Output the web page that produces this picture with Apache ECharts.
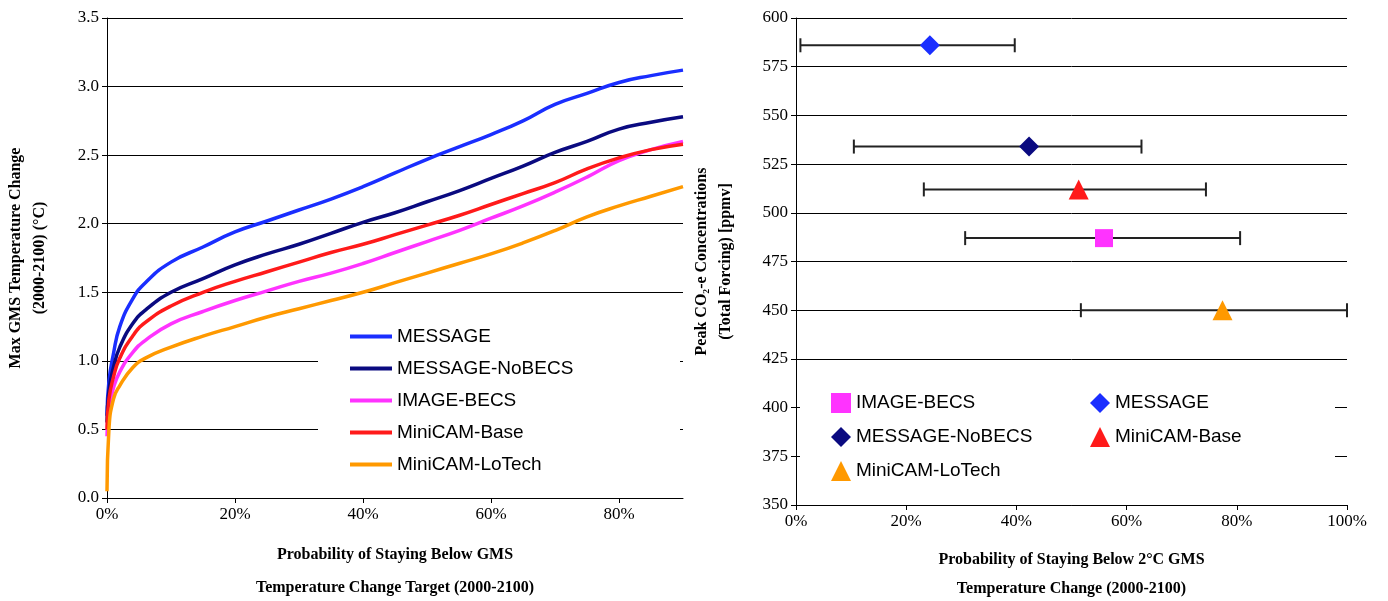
<!DOCTYPE html><html><head><meta charset="utf-8">
<script src="https://cdn.jsdelivr.net/npm/echarts@6/dist/echarts.min.js"></script>
<style>body{margin:0;background:#fff}#c{width:1388px;height:601px}</style></head><body><div id="c"></div><script>
const probs=[0,0.003,0.01,0.02,0.04,0.06,0.10,0.15,0.20,0.25,0.30,0.35,0.40,0.45,0.50,0.55,0.60,0.65,0.70,0.75,0.80,0.85,0.90];
const message=[0.6,0.85,1.05,1.25,1.45,1.57,1.72,1.83,1.94,2.02,2.1,2.18,2.27,2.37,2.47,2.56,2.65,2.75,2.87,2.95,3.03,3.08,3.12];
const noBecs=[0.55,0.78,0.95,1.1,1.27,1.37,1.5,1.6,1.7,1.78,1.85,1.93,2.01,2.08,2.16,2.24,2.33,2.42,2.52,2.6,2.69,2.74,2.78];
const imageBecs=[0.45,0.65,0.8,0.92,1.06,1.15,1.27,1.36,1.44,1.51,1.58,1.64,1.71,1.79,1.87,1.95,2.04,2.13,2.23,2.34,2.46,2.54,2.6];
const miniBase=[0.5,0.72,0.88,1.02,1.18,1.28,1.4,1.5,1.58,1.65,1.72,1.79,1.85,1.92,1.99,2.06,2.14,2.22,2.3,2.4,2.48,2.54,2.58];
const miniLo=[0.05,0.5,0.72,0.82,0.95,1.02,1.1,1.18,1.25,1.32,1.38,1.44,1.5,1.57,1.64,1.71,1.78,1.86,1.95,2.05,2.13,2.2,2.27];
const scen=['IMAGE-BECS','MESSAGE','MESSAGE-NoBECS','MiniCAM-Base','MiniCAM-LoTech'];
const peak=[487,586,534,512,450];
const pMid=[0.559,0.243,0.423,0.513,0.774];
const pLo=[0.307,0.008,0.105,0.232,0.517];
const pHi=[0.806,0.397,0.627,0.744,1.0];
const colors={'MESSAGE':'#1a2eff','MESSAGE-NoBECS':'#0a0a80','IMAGE-BECS':'#ff33ff','MiniCAM-Base':'#ff1a1a','MiniCAM-LoTech':'#ff9900'};
const symbols={'IMAGE-BECS':'rect','MESSAGE':'diamond','MESSAGE-NoBECS':'diamond','MiniCAM-Base':'triangle','MiniCAM-LoTech':'triangle'};
const serif='Liberation Serif', sans='Liberation Sans';
const lineSeries=[['MESSAGE',message],['MESSAGE-NoBECS',noBecs],['IMAGE-BECS',imageBecs],['MiniCAM-Base',miniBase],['MiniCAM-LoTech',miniLo]].map(([n,v])=>({
 name:n,type:'line',xAxisIndex:0,yAxisIndex:0,showSymbol:false,smooth:true,z:3,
 lineStyle:{width:3.5,color:colors[n]},itemStyle:{color:colors[n]},data:probs.map((p,i)=>[p,v[i]])}));
const axisLab={fontFamily:serif,fontSize:17,color:'#000'};
const xNameSt={fontFamily:serif,fontSize:16,fontWeight:'bold',color:'#000',lineHeight:33};
const xNameSt2={fontFamily:serif,fontSize:16,fontWeight:'bold',color:'#000',lineHeight:29};
const yNameSt={fontFamily:serif,fontSize:16,fontWeight:'bold',color:'#000',lineHeight:24};
const ch=echarts.init(document.getElementById('c'));
ch.setOption({
 animation:false,
 grid:[{left:107,top:18,width:576,height:480,outerBoundsMode:'none',containLabel:false},{left:796,top:18,width:551,height:487,outerBoundsMode:'none',containLabel:false}],
 xAxis:[{type:'value',gridIndex:0,min:0,max:0.9,interval:0.2,splitLine:{show:false},
   axisLine:{lineStyle:{color:'#000'}},axisTick:{lineStyle:{color:'#000'}},
   axisLabel:Object.assign({formatter:v=>Math.round(v*100)+'%',showMaxLabel:false},axisLab),
   name:'Probability of Staying Below GMS\nTemperature Change Target (2000-2100)',nameLocation:'middle',nameGap:40,nameTextStyle:xNameSt},
  {type:'value',gridIndex:1,min:0,max:1,interval:0.2,splitLine:{show:false},
   axisLine:{lineStyle:{color:'#000'}},axisTick:{lineStyle:{color:'#000'}},
   axisLabel:Object.assign({formatter:v=>Math.round(v*100)+'%'},axisLab),
   name:'Probability of Staying Below 2°C GMS\nTemperature Change (2000-2100)',nameLocation:'middle',nameGap:40,nameTextStyle:xNameSt2}],
 yAxis:[{type:'value',gridIndex:0,min:0,max:3.5,interval:0.5,
   axisLine:{show:true,lineStyle:{color:'#000'}},axisTick:{show:true,lineStyle:{color:'#000'}},
   splitLine:{lineStyle:{color:'#000',width:1}},axisLabel:Object.assign({formatter:v=>v.toFixed(1)},axisLab),
   name:'Max GMS Temperature Change\n(2000-2100) (°C)',nameLocation:'middle',nameGap:55,nameTextStyle:yNameSt},
  {type:'value',gridIndex:1,min:350,max:600,interval:25,
   axisLine:{show:true,lineStyle:{color:'#000'}},axisTick:{show:true,lineStyle:{color:'#000'}},
   splitLine:{lineStyle:{color:'#000',width:1}},axisLabel:axisLab,
   name:'Peak CO₂-e Concentrations\n(Total Forcing) [ppmv]',nameLocation:'middle',nameGap:58,nameTextStyle:yNameSt}],
 graphic:[{type:'rect',shape:{x:318,y:312,width:362,height:185},style:{fill:'#fff'},z:1},
  {type:'rect',shape:{x:800,y:382,width:535,height:108},style:{fill:'#fff'},z:1}],
 legend:[{data:['MESSAGE','MESSAGE-NoBECS','IMAGE-BECS','MiniCAM-Base','MiniCAM-LoTech'],orient:'vertical',left:345,top:322,itemGap:13,itemWidth:42,itemHeight:4,
   icon:'rect',textStyle:{fontFamily:sans,fontSize:19,color:'#000'},z:5},
  {data:[{name:'IMAGE-BECS ',icon:'rect'},{name:'MESSAGE-NoBECS ',icon:'diamond'},{name:'MiniCAM-LoTech ',icon:'triangle'}],orient:'vertical',left:826,top:388,itemGap:14,itemWidth:20,itemHeight:20,textStyle:{fontFamily:sans,fontSize:19,color:'#000'},z:5},
  {data:[{name:'MESSAGE ',icon:'diamond'},{name:'MiniCAM-Base ',icon:'triangle'}],orient:'vertical',left:1085,top:388,itemGap:14,itemWidth:20,itemHeight:20,textStyle:{fontFamily:sans,fontSize:19,color:'#000'},z:5}],
 series:lineSeries.concat([
  {type:'custom',xAxisIndex:1,yAxisIndex:1,z:3,data:scen.map((s,i)=>[pLo[i],pHi[i],peak[i]]),
   renderItem:(p,api)=>{const a=api.coord([api.value(0),api.value(2)]),b=api.coord([api.value(1),api.value(2)]);const h=7;
    const st={stroke:'#222',lineWidth:2};
    return {type:'group',children:[{type:'line',shape:{x1:a[0],y1:a[1],x2:b[0],y2:b[1]},style:st},
     {type:'line',shape:{x1:a[0],y1:a[1]-h,x2:a[0],y2:a[1]+h},style:st},{type:'line',shape:{x1:b[0],y1:b[1]-h,x2:b[0],y2:b[1]+h},style:st}]};}}
 ]).concat(scen.map((s,i)=>({name:s+' ',type:'scatter',xAxisIndex:1,yAxisIndex:1,z:4,symbol:symbols[s],symbolSize:s=='IMAGE-BECS'?18:20,
   itemStyle:{color:colors[s],opacity:1},data:[[pMid[i],peak[i]]]})))
});
</script></body></html>
